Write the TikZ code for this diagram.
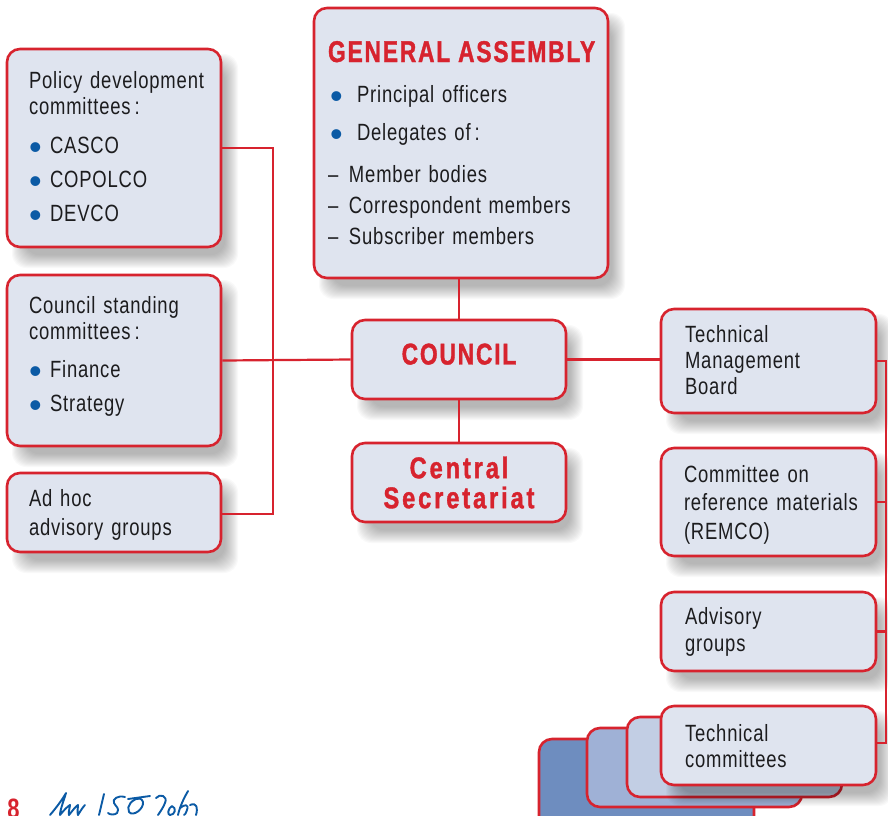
\documentclass[tikz,border=0pt]{standalone}
\usepackage{fontspec}
\setmainfont[FakeStretch=0.785,LetterSpace=3.5]{Liberation Sans}
\newfontfamily\headfont[FakeStretch=0.76,LetterSpace=6,BoldFont={* Bold},BoldFeatures={FakeBold=1.2}]{Liberation Sans}
\newfontfamily\subheadfont[FakeStretch=0.79,LetterSpace=9.5,BoldFont={* Bold},BoldFeatures={FakeBold=1.2}]{Liberation Sans}
\newfontfamily\bulletfont{Liberation Sans}
\definecolor{boxfill}{HTML}{DFE4EF}
\definecolor{isored}{HTML}{D7232E}
\definecolor{isoblue}{HTML}{0B5AA5}
\definecolor{stackA}{HTML}{C2CEE4}
\definecolor{stackB}{HTML}{9FB1D6}
\definecolor{stackC}{HTML}{6E8DBF}
\definecolor{inkc}{HTML}{1C1C1E}
\newcommand{\bltmark}{\textcolor{isoblue}{\raisebox{-6pt}[0pt][0pt]{\bulletfont\fontsize{36}{26}\selectfont\textbullet}}}
\newcommand{\blt}{\makebox[21pt][l]{\bltmark}}
\newcommand{\bltw}{\makebox[27pt][l]{\bltmark}}
\newcommand{\dsh}{\makebox[21pt][l]{--}}
\newcommand{\deep}[1]{\rule[-#1pt]{0pt}{#1pt}}
\newcommand{\tall}[1]{\rule{0pt}{#1pt}}
\newcommand{\softshadow}[4]{%
  \foreach \k in {0,...,13}{%
    \fill[black,opacity=0.025,rounded corners=14pt]
      ({#1+18-\k},{#2+18-\k}) rectangle ({#3+4+\k},{#4+8+\k});}}
\tikzset{
  box/.style={draw=isored,fill=boxfill,line width=2.6pt,rounded corners=13pt,inner sep=0pt,
    font=\fontsize{23.5}{26}\selectfont,text=inkc,align=left},
  head/.style={box,font=\headfont\bfseries\fontsize{30}{30}\selectfont,text=isored,align=center},
  link/.style={draw=isored,line width=2.2pt},
  sign/.style={draw=isoblue,line width=1.9pt,line cap=round,line join=round}
}
\begin{document}
\begin{tikzpicture}[x=1pt,y=-1pt]
\useasboundingbox (0,0) rectangle (888,815);
\clip (0,0) rectangle (888,815);
\softshadow{7}{49}{221}{247}
\softshadow{7}{275}{221}{446}
\softshadow{7}{473}{221}{552}
\softshadow{314}{8}{608}{278}
\softshadow{352}{320}{566}{399}
\softshadow{352}{443}{566}{522}
\softshadow{661}{309}{876}{413}
\softshadow{661}{448}{876}{556}
\softshadow{661}{592}{876}{671}
% stacked technical committee sheets
\node[box,fill=stackC,minimum width=215pt,minimum height=90pt] (s3) at (646.5,784) {};
\node[box,fill=stackB,minimum width=215pt,minimum height=79pt] (s2) at (694.5,767.5) {};
\node[box,fill=stackA,minimum width=215pt,minimum height=80pt] (s1) at (734.5,757) {};
\softshadow{661}{706}{876}{785}
\node[box,minimum width=215pt,minimum height=79pt,text width=167pt] (tc) at (768.5,745.5) {\tall{19}Technical\\committees};
% left column
\node[box,minimum width=214pt,minimum height=198pt,text width=170pt] (policy) at (114,148)
  {\mbox{Policy development}\\committees\,:\\[13pt]\blt CASCO\\[8pt]\blt COPOLCO\\[8pt]\blt DEVCO\deep{4}};
\node[box,minimum width=214pt,minimum height=171pt,text width=170pt] (standing) at (114,360.5)
  {Council standing\\committees\,:\\[12pt]\blt Finance\\[8pt]\blt Strategy\deep{13}};
\node[box,minimum width=214pt,minimum height=79pt,text width=170pt] (adhoc) at (114,512.5)
  {\tall{21}Ad hoc\\[3pt]advisory groups};
% centre column
\node[box,minimum width=294pt,minimum height=270pt,text width=266pt] (ga) at (461,143)
  {\tall{28}{\headfont\bfseries\fontsize{30}{30}\selectfont\textcolor{isored}{GENERAL ASSEMBLY}}\\[14pt]
   \hspace*{2pt}\bltw Principal officers\\[12pt]
   \hspace*{2pt}\bltw Delegates of\,:\\[16pt]
   \dsh Member bodies\\[5pt]\dsh Correspondent members\\[5pt]\dsh Subscriber members\deep{8}};
\node[head,minimum width=214pt,minimum height=79pt] (council) at (459,359.5) {\raisebox{11pt}{COUNCIL}};
\node[head,minimum width=214pt,minimum height=79pt,font=\subheadfont\bfseries\fontsize{30}{30}\selectfont] (secretariat) at (459,482.5) {Central\\Secretariat};
% right column
\node[box,minimum width=215pt,minimum height=104pt,text width=167pt] (tmb) at (768.5,361)
  {Technical\\Management\\Board\deep{2}};
\node[box,minimum width=215pt,minimum height=108pt,text width=169pt] (remco) at (768.5,502)
  {\tall{22}Committee on\\[2.5pt]\mbox{reference materials}\\[2.5pt](REMCO)};
\node[box,minimum width=215pt,minimum height=79pt,text width=167pt] (advisory) at (768.5,631.5)
  {Advisory\\[1pt]groups};
% connectors
\coordinate (busL) at (273,360);
\coordinate (busR) at (886,360);
\draw[link] (policy.east) -| (busL) |- ([yshift=-1.5pt]adhoc.east);
\draw[link] (standing.east) -- (council.west);
\draw[link] (ga.south -| council.north) -- (council.north);
\draw[link] (council.south) -- (secretariat.north);
\draw[link] (council.east) -- (council.east -| tmb.west);
\draw[link] (tmb.east) -| (busR) |- ([yshift=2.5pt]tc.east);
\draw[link] (remco.east) -- (remco.east -| busR);
\draw[link] (advisory.east) -- (advisory.east -| busR);
% folio and signature
\node[anchor=base,inner sep=0pt,text=isored,font=\bfseries\fontsize{28}{28}\selectfont] (folio) at (13.5,818) {8};
\draw[sign] (50,815) .. controls (56,808) and (62,800) .. (66,793) .. controls (64,800) and (60,810) .. (60,815)
  (60,815) .. controls (64,810) and (68,806) .. (70,805) .. controls (70,808) and (68,812) .. (69,815)
  (69,815) .. controls (73,810) and (76,806) .. (78,805) .. controls (78,808) and (77,812) .. (78,815)
  (78,815) .. controls (81,810) and (83,807) .. (85,805);
\draw[sign] (104,794) -- (99,815);
\draw[sign] (125,797) .. controls (118,795) and (112,799) .. (114,803) .. controls (116,807) and (120,808) .. (117,813) .. controls (115,815) and (110,815) .. (108,813);
\draw[sign] (140,798) .. controls (132,799) and (126,806) .. (129,812) .. controls (133,817) and (144,809) .. (143,802) .. controls (142,798) and (138,798) .. (136,799);
\draw[sign] (128,799) -- (150,796);
\draw[sign] (156,798) .. controls (160,793) and (168,796) .. (165,803) .. controls (163,808) and (160,812) .. (158,815);
\draw[sign] (188,791) .. controls (184,798) and (180,806) .. (178,815);
\draw[sign] (172,806) .. controls (168,808) and (167,815) .. (170,815) .. controls (175,815) and (177,808) .. (172,806);
\draw[sign] (180,808) .. controls (185,804) and (189,804) .. (187,810) .. controls (186,813) and (185,815) .. (184,815);
\draw[sign] (190,805) .. controls (197,802) and (198,808) .. (196,815);
\end{tikzpicture}
\end{document}
